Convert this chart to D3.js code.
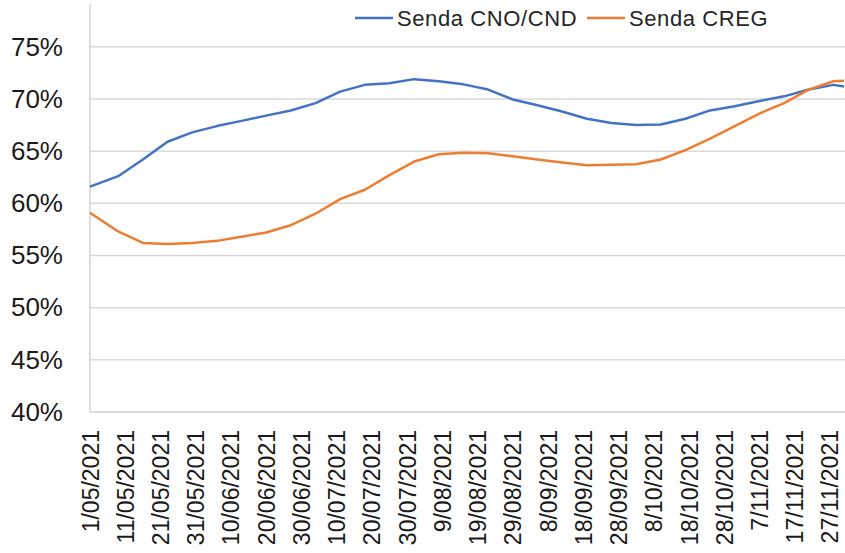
<!DOCTYPE html>
<html>
<head>
<meta charset="utf-8">
<script src="https://cdn.jsdelivr.net/npm/d3@7"></script>
<style>
  body { margin: 0; background: #fff; }
  svg { display: block; font-family: "Liberation Sans", Arial, sans-serif; }
</style>
</head>
<body>
<div id="chart"></div>
<script>
// Series data
const dates = [
  "1/05/2021", "9/05/2021", "16/05/2021", "23/05/2021", "30/05/2021", "6/06/2021",
  "13/06/2021", "20/06/2021", "27/06/2021", "4/07/2021", "11/07/2021", "18/07/2021",
  "25/07/2021", "1/08/2021", "8/08/2021", "15/08/2021", "22/08/2021", "29/08/2021",
  "5/09/2021", "12/09/2021", "19/09/2021", "26/09/2021", "3/10/2021", "10/10/2021",
  "17/10/2021", "24/10/2021", "31/10/2021", "7/11/2021", "14/11/2021", "21/11/2021",
  "28/11/2021", "1/12/2021"
];
const sendaCNO = [
  61.6, 62.6, 64.2, 65.9, 66.8, 67.4, 67.9, 68.4, 68.9, 69.6, 70.7, 71.35,
  71.5, 71.9, 71.7, 71.4, 70.9, 69.95, 69.4, 68.8, 68.1, 67.7, 67.5, 67.55,
  68.1, 68.9, 69.3, 69.8, 70.25, 70.9, 71.35, 71.2
];
const sendaCREG = [
  59.1, 57.3, 56.2, 56.1, 56.2, 56.4, 56.8, 57.2, 57.9, 59.0, 60.4, 61.3,
  62.7, 64.0, 64.7, 64.85, 64.8, 64.5, 64.2, 63.9, 63.65, 63.7, 63.75, 64.2,
  65.1, 66.2, 67.4, 68.6, 69.6, 70.9, 71.7, 71.75
];
const seriesNames = ["Senda CNO/CND", "Senda CREG"];
const seriesColors = ["#4472C4", "#ED7D31"];
const xTickLabels = [
  "1/05/2021", "11/05/2021", "21/05/2021", "31/05/2021", "10/06/2021", "20/06/2021",
  "30/06/2021", "10/07/2021", "20/07/2021", "30/07/2021", "9/08/2021", "19/08/2021",
  "29/08/2021", "8/09/2021", "18/09/2021", "28/09/2021", "8/10/2021", "18/10/2021",
  "28/10/2021", "7/11/2021", "17/11/2021", "27/11/2021"
];
const yTicks = [40, 45, 50, 55, 60, 65, 70, 75];

const W = 845, H = 553;
const plot = { left: 90, right: 844, top: 4, bottom: 412 };

const parse = d3.timeParse("%d/%m/%Y");

const svg = d3.select("#chart").append("svg")
  .attr("width", W)
  .attr("height", H);

const x = d3.scaleTime()
  .domain([parse("1/05/2021"), parse("1/12/2021")])
  .range([plot.left, plot.right]);

const y = d3.scaleLinear()
  .domain([40, 79.1])
  .range([plot.bottom, plot.top]);

// gridlines
svg.append("g")
  .selectAll("line")
  .data(yTicks.filter(d => d > 40))
  .join("line")
  .attr("x1", plot.left)
  .attr("x2", W)
  .attr("y1", d => y(d))
  .attr("y2", d => y(d))
  .attr("stroke", "#d9d9d9")
  .attr("stroke-width", 1.5);

// y axis
const yAxis = svg.append("g")
  .attr("transform", `translate(${plot.left},0)`)
  .call(d3.axisLeft(y).tickValues(yTicks).tickSize(0).tickPadding(27).tickFormat(d => d + "%"));
yAxis.select(".domain").remove();
yAxis.selectAll("text")
  .attr("font-size", 26)
  .attr("fill", "#1a1a1a")
  .attr("font-family", "Liberation Sans, Arial, sans-serif");

svg.append("line")
  .attr("x1", plot.left).attr("x2", plot.left)
  .attr("y1", plot.top).attr("y2", plot.bottom)
  .attr("stroke", "#d0d0d0")
  .attr("stroke-width", 1.5);

// x axis
const xAxis = svg.append("g")
  .attr("transform", `translate(0,${plot.bottom})`)
  .call(d3.axisBottom(x)
    .tickValues(xTickLabels.map(parse))
    .tickSize(0)
    .tickFormat(d3.timeFormat("%-d/%m/%Y")));
xAxis.select(".domain")
  .attr("d", `M${plot.left},0H${W}`)
  .attr("stroke", "#d0d0d0")
  .attr("stroke-width", 1.5);
xAxis.selectAll("text")
  .attr("font-size", 23)
  .attr("fill", "#1a1a1a")
  .attr("font-family", "Liberation Sans, Arial, sans-serif")
  .attr("text-anchor", "end")
  .attr("transform", "rotate(-90)")
  .attr("x", -18)
  .attr("y", 0)
  .attr("dy", "0.35em");

// lines
const series = [sendaCNO, sendaCREG].map((vals, i) => ({
  name: seriesNames[i],
  color: seriesColors[i],
  values: vals.map((v, j) => ({date: parse(dates[j]), value: v}))
}));

const line = d3.line()
  .x(d => x(d.date))
  .y(d => y(d.value));

svg.append("g")
  .selectAll("path")
  .data(series)
  .join("path")
  .attr("fill", "none")
  .attr("stroke", d => d.color)
  .attr("stroke-width", 2.5)
  .attr("stroke-linejoin", "round")
  .attr("d", d => line(d.values));

// legend
const legendX = [355, 587];
const legend = svg.append("g")
  .selectAll("g")
  .data(series)
  .join("g")
  .attr("transform", (d, i) => `translate(${legendX[i]},18)`);
legend.append("line")
  .attr("x1", 0).attr("x2", 38)
  .attr("stroke", d => d.color)
  .attr("stroke-width", 2.5);
legend.append("text")
  .attr("x", 42)
  .attr("dy", "0.35em")
  .attr("font-size", 22)
  .attr("letter-spacing", 0.6)
  .attr("fill", "#262626")
  .text(d => d.name);
</script>
</body>
</html>
